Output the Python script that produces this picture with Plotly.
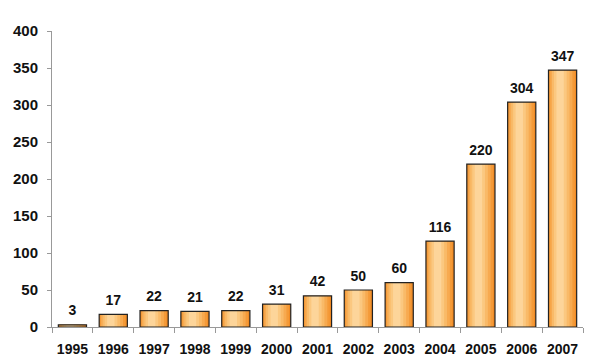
import plotly.graph_objects as go

years = ["1995", "1996", "1997", "1998", "1999", "2000", "2001",
         "2002", "2003", "2004", "2005", "2006", "2007"]
values = [3, 17, 22, 21, 22, 31, 42, 50, 60, 116, 220, 304, 347]
y_ticks = [0, 50, 100, 150, 200, 250, 300, 350, 400]

fig = go.Figure()

# gradient layers (outer to inner), simulating horizontal shading
layers = [
    (0.69, -0.345, "#F18B25"),
    (0.63, -0.33, "#F49A38"),
    (0.54, -0.30, "#F7AA50"),
    (0.43, -0.26, "#F9BA68"),
    (0.31, -0.21, "#FBC880"),
    (0.18, -0.15, "#FDD59A"),
]
for w, off, col in layers:
    fig.add_trace(go.Bar(x=years, y=values, width=w, offset=off,
                         marker=dict(color=col, line=dict(width=0)),
                         hoverinfo="skip", showlegend=False))

# outline
fig.add_trace(go.Bar(x=years, y=values, width=0.69, offset=-0.345,
                     marker=dict(color="rgba(0,0,0,0)",
                                 line=dict(color="#222222", width=1.2)),
                     showlegend=False))

# value labels (invisible markers to lift text above bar tops)
fig.add_trace(go.Scatter(x=years, y=values, mode="markers+text",
                         marker=dict(size=8, opacity=0),
                         text=[str(v) for v in values],
                         textposition="top center",
                         textfont=dict(family="Liberation Sans, Arial", size=14,
                                       color="#111111", weight="bold"),
                         cliponaxis=False, hoverinfo="skip",
                         showlegend=False))

fig.update_layout(
    width=610, height=357,
    margin=dict(l=52, r=27, t=31, b=30, autoexpand=False),
    barmode="overlay",
    plot_bgcolor="white", paper_bgcolor="white",
    font=dict(family="Liberation Sans, Arial", size=14, color="#111111",
              weight="bold"),
)
fig.update_xaxes(type="category", tickson="boundaries", ticks="outside",
                 range=[-0.5, len(years) - 0.5], tickangle=0,
                 ticklen=5, tickcolor="#999999", showline=True,
                 linecolor="#999999", linewidth=1, showgrid=False,
                 automargin=False,
                 tickfont=dict(size=14, weight="bold"), ticklabelstandoff=9)
fig.update_yaxes(range=[0, 400], tickvals=y_ticks, ticks="outside",
                 ticklen=4, tickcolor="#999999", showline=True,
                 linecolor="#999999", linewidth=1, showgrid=False,
                 zeroline=False, automargin=False,
                 tickfont=dict(size=15, weight="bold"), ticklabelstandoff=6)

fig.write_html("out.html",
               config={"displayModeBar": False},
               post_script="document.body.style.margin='0';"
                           "document.body.style.overflow='hidden';")
